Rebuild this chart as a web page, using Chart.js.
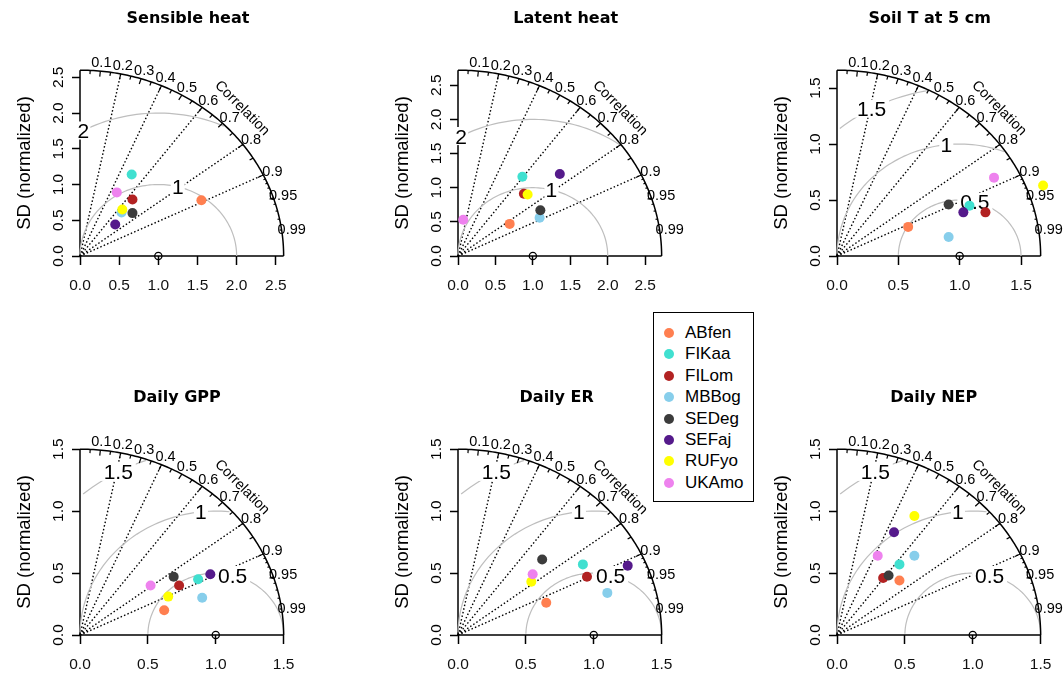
<!DOCTYPE html>
<html>
<head>
<meta charset="utf-8">
<script src="https://cdn.jsdelivr.net/npm/chart.js@4.4.1/dist/chart.umd.min.js"></script>
<style>
  html, body { margin: 0; padding: 0; background: #fff; overflow: hidden; width: 1064px; height: 673px; }
  #page { position: relative; width: 1064px; height: 673px; overflow: hidden; }
  #page canvas { position: absolute; }
  #legend { position: absolute; left: 653px; top: 312px; width: 99px; height: 188px; border: 1px solid #000;
            background: #fff; font: 17px "Liberation Sans", Arial, sans-serif; color: #000; }
  #legend .row { position: absolute; left: 0; height: 20px; line-height: 20px; white-space: nowrap; }
  #legend .dot { position: absolute; left: 10px; top: 5px; width: 10px; height: 10px; border-radius: 50%; }
  #legend .lbl { position: absolute; left: 31px; top: 0; }
</style>
</head>
<body>
<div id="page"><div id="legend"></div></div>
<script>
// stations and colours
const stations = ["ABfen", "FIKaa", "FILom", "MBBog", "SEDeg", "SEFaj", "RUFyo", "UKAmo"];
const stationColors = ["#FF7F50", "#40E0D0", "#B22222", "#87CEEB", "#3C3C3C", "#551A8B", "#FFFF00", "#EE82EE"];

// panels
const panelTitles = ["Sensible heat", "Latent heat", "Soil T at 5 cm", "Daily GPP", "Daily ER", "Daily NEP"];
const panelMaxSD = [2.6, 2.72, 1.66, 1.5, 1.5, 1.5];
const sdTicksLarge = [0, 0.5, 1, 1.5, 2, 2.5];
const sdTicksSmall = [0, 0.5, 1, 1.5];
const gammaLarge = [1, 2];
const gammaSmall = [0.5, 1, 1.5];
const corrLines = [0.2, 0.4, 0.6, 0.8, 0.9];
const corrLabels = [0.1, 0.2, 0.3, 0.4, 0.5, 0.6, 0.7, 0.8, 0.9, 0.95, 0.99];

// normalized SD * cor (x) and SD * sin (y), station order as above
const sensibleX = [1.55, 0.66, 0.67, 0.53, 0.67, 0.45, 0.54, 0.47];
const sensibleY = [0.78, 1.14, 0.79, 0.61, 0.60, 0.44, 0.65, 0.89];
const latentX = [0.69, 0.86, 0.88, 1.09, 1.10, 1.36, 0.93, 0.07];
const latentY = [0.47, 1.16, 0.91, 0.56, 0.67, 1.20, 0.90, 0.53];
const soilX = [0.58, 1.08, 1.21, 0.91, 0.91, 1.03, 1.68, 1.28];
const soilY = [0.26, 0.45, 0.39, 0.17, 0.46, 0.39, 0.63, 0.70];
const gppX = [0.62, 0.87, 0.73, 0.90, 0.69, 0.96, 0.65, 0.52];
const gppY = [0.20, 0.45, 0.40, 0.30, 0.47, 0.49, 0.31, 0.40];
const erX = [0.65, 0.92, 0.95, 1.10, 0.62, 1.25, 0.54, 0.55];
const erY = [0.26, 0.57, 0.47, 0.34, 0.61, 0.56, 0.43, 0.49];
const nepX = [0.46, 0.46, 0.34, 0.57, 0.38, 0.42, 0.57, 0.30];
const nepY = [0.44, 0.57, 0.46, 0.64, 0.48, 0.83, 0.96, 0.64];

const panelX = [sensibleX, latentX, soilX, gppX, erX, nepX];
const panelY = [sensibleY, latentY, soilY, gppY, erY, nepY];

// layout (page pixels): plot origin of each panel, and title centre
const panelOrigins = [[80, 256], [458.3, 256], [837.3, 256], [80, 635], [458.3, 635], [837.3, 635]];
const titleCenters = [188, 566, 930, 177, 557, 934];
const CW = 376, CH = 320, PLOT_W = 224;

const FONT = '"Liberation Sans", Arial, sans-serif';

function centered(ctx, text, x, y, size) {
  // R-style centring: middle of cap height on y
  ctx.fillText(text, x, y + size * 0.358);
}

const taylorPlugin = {
  id: "taylor",
  beforeDatasetsDraw(chart, args, opts) {
    const { ctx } = chart;
    const xs = chart.scales.x, ys = chart.scales.y;
    const m = opts.maxSD;
    const px = (v) => xs.getPixelForValue(v);
    const py = (v) => ys.getPixelForValue(v);
    ctx.save();

    // dotted correlation lines
    ctx.strokeStyle = "#000";
    ctx.lineWidth = 1.4;
    ctx.setLineDash([1.5, 2.2]);
    corrLines.forEach((c) => {
      ctx.beginPath();
      ctx.moveTo(px(0), py(0));
      ctx.lineTo(px(m * c), py(m * Math.sqrt(1 - c * c)));
      ctx.stroke();
    });
    ctx.setLineDash([]);

    // axis segments
    ctx.lineWidth = 1.5;
    ctx.beginPath();
    ctx.moveTo(px(0), py(m));
    ctx.lineTo(px(0), py(0));
    ctx.lineTo(px(m), py(0));
    ctx.stroke();

    // centred RMS arcs (gray) with boxed labels
    const gam = opts.gamma;
    gam.forEach((g, gi) => {
      const tx = [], ty = [];
      for (let i = 0; i <= 104; i++) {
        const t = i * 0.03;
        tx.push(Math.cos(t) * g + 1);
        ty.push(Math.sin(t) * g);
      }
      let end = tx.findIndex((v) => v < 0);
      end = end >= 0 ? end - 1 : 104;
      let start = -1;
      tx.forEach((v, i) => { if (v * v + ty[i] * ty[i] > m * m) start = i; });
      start = start + 1;
      ctx.strokeStyle = "#BEBEBE";
      ctx.lineWidth = 1.2;
      ctx.beginPath();
      for (let i = start; i <= end; i++) {
        if (i === start) ctx.moveTo(px(tx[i]), py(ty[i]));
        else ctx.lineTo(px(tx[i]), py(ty[i]));
      }
      ctx.stroke();
      const lp = gam.length === 1 ? 44 : Math.floor(45 + (25 * gi) / (gam.length - 1)) - 1;
      if (tx[lp] > 0) {
        const size = 21;
        const label = String(g);
        ctx.font = size + "px " + FONT;
        const w = ctx.measureText(label).width;
        const h = size * 0.716;
        const cx = px(tx[lp]), cy = py(ty[lp]);
        ctx.fillStyle = "#fff";
        ctx.fillRect(cx - w * 0.6, cy - h * 0.6, w * 1.2, h * 1.2);
        ctx.fillStyle = "#000";
        ctx.textAlign = "center";
        ctx.textBaseline = "alphabetic";
        centered(ctx, label, cx, cy, size);
      }
    });

    // outer arc
    ctx.strokeStyle = "#000";
    ctx.lineWidth = 1.5;
    ctx.beginPath();
    for (let i = 0; i <= 120; i++) {
      const t = (i / 120) * Math.PI / 2;
      const x = px(Math.cos(t) * m), y = py(Math.sin(t) * m);
      if (i === 0) ctx.moveTo(x, y); else ctx.lineTo(x, y);
    }
    ctx.stroke();

    // correlation ticks on the outer arc
    const tick = (c, f) => {
      const s = Math.sqrt(1 - c * c);
      ctx.beginPath();
      ctx.moveTo(px(c * m), py(s * m));
      ctx.lineTo(px(c * f * m), py(s * f * m));
      ctx.stroke();
    };
    ctx.lineWidth = 1.2;
    for (let k = 1; k <= 9; k++) tick(k / 10, 0.97);
    for (let k = 0; k <= 9; k++) tick(0.05 + k / 10, 0.98);
    for (let k = 1; k <= 9; k++) tick(0.9 + k / 100, 0.99);

    // correlation labels
    const cs = 14.5;
    ctx.fillStyle = "#000";
    ctx.font = cs + "px " + FONT;
    ctx.textAlign = "center";
    ctx.textBaseline = "alphabetic";
    corrLabels.forEach((c) => {
      const s = Math.sqrt(1 - c * c);
      centered(ctx, String(c), px(c * 1.05 * m), py(s * 1.05 * m), cs);
    });
    ctx.save();
    ctx.translate(px(0.8 * m), py(0.8 * m));
    ctx.rotate(Math.PI / 4);
    centered(ctx, "Correlation", 0, 0, cs);
    ctx.restore();

    // rotated y tick labels
    const ts = 15.5;
    ctx.font = ts + "px " + FONT;
    opts.ticks.forEach((v) => {
      ctx.save();
      ctx.translate(px(0) - 22.5, py(v));
      ctx.rotate(-Math.PI / 2);
      centered(ctx, v.toFixed(1), 0, 0, ts);
      ctx.restore();
    });

    // y axis title
    const yt = 18.5;
    ctx.font = yt + "px " + FONT;
    ctx.save();
    ctx.translate(px(0) - 57, py(0) - 93);
    ctx.rotate(-Math.PI / 2);
    centered(ctx, "SD (normalized)", 0, 0, yt);
    ctx.restore();

    ctx.restore();
  },
};

function makePanel(p) {
  const [ox, oy] = panelOrigins[p];
  const m = panelMaxSD[p];
  const small = m < 2;
  const tickVals = small ? sdTicksSmall : sdTicksLarge;
  const left = ox - 80, top = oy - 256;
  const padLeft = 2 * (titleCenters[p] - left) - 304;

  const canvas = document.createElement("canvas");
  canvas.width = CW;
  canvas.height = CH;
  canvas.style.left = left + "px";
  canvas.style.top = top + "px";
  canvas.style.width = CW + "px";
  canvas.style.height = CH + "px";
  document.getElementById("page").appendChild(canvas);

  const pts = panelX[p].map((x, i) => ({ x, y: panelY[p][i] }));

  new Chart(canvas, {
    type: "scatter",
    data: {
      datasets: [
        {
          label: "reference",
          data: [{ x: 1, y: 0 }],
          pointRadius: 3.6,
          pointBorderWidth: 1.3,
          pointBorderColor: "#000",
          pointBackgroundColor: "rgba(0,0,0,0)",
          clip: false,
          order: 2,
        },
        {
          label: panelTitles[p],
          data: pts,
          pointRadius: 5,
          pointBorderWidth: 0,
          pointBackgroundColor: stationColors,
          pointBorderColor: stationColors,
          clip: false,
          order: 1,
        },
      ],
    },
    options: {
      responsive: false,
      animation: false,
      devicePixelRatio: 1,
      layout: { autoPadding: false, padding: { left: padLeft, right: CW - (80 + PLOT_W), top: 0, bottom: 0 } },
      plugins: {
        legend: { display: false },
        tooltip: { enabled: false },
        title: {
          display: true,
          text: panelTitles[p],
          color: "#000",
          font: { family: "DejaVu Sans", weight: "bold", size: 16 },
          padding: { top: 9.4, bottom: 23 },
        },
        taylor: { maxSD: m, gamma: small ? gammaSmall : gammaLarge, ticks: tickVals },
      },
      scales: {
        x: {
          type: "linear",
          position: "bottom",
          min: 0,
          max: 1.1 * m,
          afterBuildTicks: (s) => { s.ticks = tickVals.map((v) => ({ value: v })); },
          afterFit: (s) => { s.height = CH - 256; },
          border: { display: false },
          grid: { drawOnChartArea: false, drawTicks: true, tickLength: 9, tickWidth: 1.5, tickColor: "#000" },
          ticks: {
            autoSkip: false,
            maxRotation: 0,
            padding: 11,
            color: "#111",
            font: { family: "Liberation Sans", size: 15.5 },
            callback: (v) => Number(v).toFixed(1),
          },
        },
        y: {
          type: "linear",
          position: "left",
          min: 0,
          max: 1.1 * m,
          afterBuildTicks: (s) => { s.ticks = tickVals.map((v) => ({ value: v })); },
          afterFit: (s) => { s.width = 80 - padLeft; },
          border: { display: false },
          grid: { drawOnChartArea: false, drawTicks: true, tickLength: 8, tickWidth: 1.5, tickColor: "#000" },
          ticks: { display: false },
        },
      },
    },
    plugins: [taylorPlugin],
  });
}

for (let p = 0; p < 6; p++) makePanel(p);

// legend
const legend = document.getElementById("legend");
stations.forEach((name, i) => {
  const row = document.createElement("div");
  row.className = "row";
  row.style.top = (10 + 21.4 * i) + "px";
  row.style.width = "99px";
  const dot = document.createElement("div");
  dot.className = "dot";
  dot.style.background = stationColors[i];
  const lbl = document.createElement("div");
  lbl.className = "lbl";
  lbl.textContent = name;
  row.appendChild(dot);
  row.appendChild(lbl);
  legend.appendChild(row);
});
</script>
</body>
</html>
